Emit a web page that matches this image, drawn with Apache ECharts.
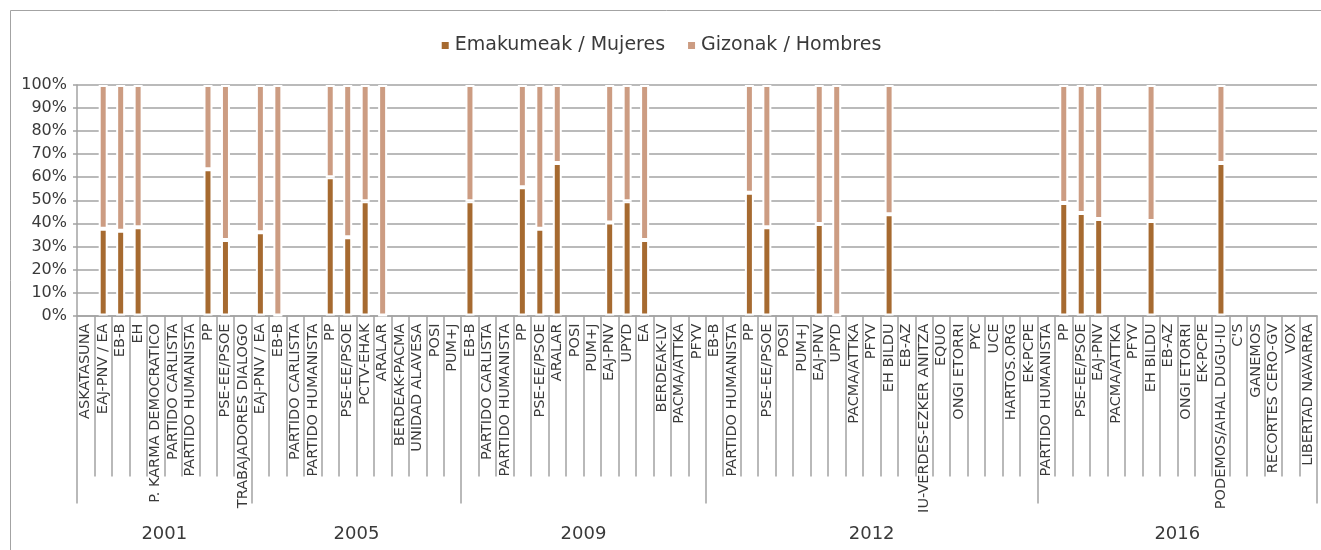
<!DOCTYPE html>
<html>
<head>
<meta charset="utf-8">
<script src="https://cdn.jsdelivr.net/npm/echarts@6/dist/echarts.min.js"></script>
<style>
  html, body { margin: 0; padding: 0; background: #fff; }
  #chart { width: 1321px; height: 550px; }
</style>
</head>
<body>
<div id="chart"></div>
<script>
// Partidos por convocatoria electoral
const parties2001 = ['ASKATASUNA', 'EAJ-PNV / EA', 'EB-B', 'EH', 'P. KARMA DEMOCRATICO', 'PARTIDO CARLISTA',
    'PARTIDO HUMANISTA', 'PP', 'PSE-EE/PSOE', 'TRABAJADORES DIALOGO'];
const parties2005 = ['EAJ-PNV / EA', 'EB-B', 'PARTIDO CARLISTA', 'PARTIDO HUMANISTA', 'PP', 'PSE-EE/PSOE',
    'PCTV-EHAK', 'ARALAR', 'BERDEAK-PACMA', 'UNIDAD ALAVESA', 'POSI', 'PUM+J'];
const parties2009 = ['EB-B', 'PARTIDO CARLISTA', 'PARTIDO HUMANISTA', 'PP', 'PSE-EE/PSOE', 'ARALAR', 'POSI',
    'PUM+J', 'EAJ-PNV', 'UPYD', 'EA', 'BERDEAK-LV', 'PACMA/ATTKA', 'PFYV'];
const parties2012 = ['EB-B', 'PARTIDO HUMANISTA', 'PP', 'PSE-EE/PSOE', 'POSI', 'PUM+J', 'EAJ-PNV', 'UPYD',
    'PACMA/ATTKA', 'PFYV', 'EH BILDU', 'EB-AZ', 'IU-VERDES-EZKER ANITZA', 'EQUO', 'ONGI ETORRI', 'PYC', 'UCE',
    'HARTOS.ORG', 'EK-PCPE'];
const parties2016 = ['PARTIDO HUMANISTA', 'PP', 'PSE-EE/PSOE', 'EAJ-PNV', 'PACMA/ATTKA', 'PFYV', 'EH BILDU',
    'EB-AZ', 'ONGI ETORRI', 'EK-PCPE', 'PODEMOS/AHAL DUGU-IU', "C'S", 'GANEMOS', 'RECORTES CERO-GV', 'VOX',
    'LIBERTAD NAVARRA'];

const years = ['2001', '2005', '2009', '2012', '2016'];

// % mujeres / hombres (null = sin electos)
const mujeres2001 = [null, 37.6, 36.8, 38.3, null, null, null, 63.4, 32.8, null];
const hombres2001 = [null, 62.4, 63.2, 61.7, null, null, null, 36.6, 67.2, null];
const mujeres2005 = [36.1, 0, null, null, 60.0, 34.0, 49.6, 0, null, null, null, null];
const hombres2005 = [63.9, 100, null, null, 40.0, 66.0, 50.4, 100, null, null, null, null];
const mujeres2009 = [49.6, null, null, 55.6, 37.6, 66.2, null, null, 40.3, 49.6, 32.8, null, null, null];
const hombres2009 = [50.4, null, null, 44.4, 62.4, 33.8, null, null, 59.7, 50.4, 67.2, null, null, null];
const mujeres2012 = [null, null, 53.2, 38.3, null, null, 39.7, 0, null, null, 43.9, null, null, null, null, null,
    null, null, null];
const hombres2012 = [null, null, 46.8, 61.7, null, null, 60.3, 100, null, null, 56.1, null, null, null, null, null,
    null, null, null];
const mujeres2016 = [null, 48.8, 44.5, 41.9, null, null, 41.0, null, null, null, 66.2, null, null, null, null, null];
const hombres2016 = [null, 51.2, 55.5, 58.1, null, null, 59.0, null, null, null, 33.8, null, null, null, null, null];

const groups = [parties2001, parties2005, parties2009, parties2012, parties2016];
const categories = [].concat(...groups);
const mujeres = [].concat(mujeres2001, mujeres2005, mujeres2009, mujeres2012, mujeres2016);
const hombres = [].concat(hombres2001, hombres2005, hombres2009, hombres2012, hombres2016);

// límites y centros de cada año en unidades de categoría
const bounds = [0];
groups.forEach(g => bounds.push(bounds[bounds.length - 1] + g.length));
const centers = years.map((y, i) => (bounds[i] + bounds[i + 1]) / 2);
const allBounds = categories.map((c, i) => i).concat([categories.length]);

const FONT = 'DejaVu Sans';
const TXT = '#3a3a3a';
const GRID = '#a3a3a3';

const chart = echarts.init(document.getElementById('chart'));

const barStyle = function (color) {
    return {color: color, borderColor: '#fff', borderWidth: 2};
};

chart.setOption({
    animation: false,
    textStyle: {fontFamily: FONT},
    graphic: [{
        type: 'rect',
        shape: {x: 10.5, y: 10.5, width: 1330, height: 560},
        style: {fill: 'none', stroke: GRID, lineWidth: 1},
        silent: true
    }],
    legend: {
        top: 31,
        left: 'center',
        icon: 'rect',
        itemWidth: 9,
        itemHeight: 9,
        itemGap: 21,
        textStyle: {fontFamily: FONT, fontSize: 19, color: TXT}
    },
    grid: {left: 77, right: 4, top: 85, bottom: 234.5, containLabel: false},
    xAxis: [{
        type: 'category',
        data: categories,
        axisLine: {lineStyle: {color: GRID, width: 1.5}},
        axisTick: {show: false},
        axisLabel: {
            interval: 0, rotate: 90, margin: 8,
            fontFamily: FONT, fontSize: 14.5, color: TXT
        }
    }, {
        // separadores entre partidos
        type: 'value',
        position: 'bottom',
        min: 0,
        max: categories.length,
        axisLine: {show: false},
        splitLine: {show: false},
        axisTick: {show: true, customValues: allBounds, length: 161, lineStyle: {color: GRID, width: 1.5}},
        axisLabel: {show: false}
    }, {
        // años
        type: 'value',
        position: 'bottom',
        min: 0,
        max: categories.length,
        axisLine: {show: false},
        splitLine: {show: false},
        axisTick: {show: true, customValues: bounds, length: 188, lineStyle: {color: GRID, width: 1.5}},
        axisLabel: {
            customValues: centers,
            margin: 210,
            fontFamily: FONT, fontSize: 18, color: TXT,
            formatter: function (v) {
                const i = centers.indexOf(v);
                return i >= 0 ? years[i] : '';
            }
        }
    }],
    yAxis: {
        type: 'value',
        min: 0,
        max: 100,
        interval: 10,
        axisLine: {show: true, lineStyle: {color: GRID, width: 1.5}},
        axisTick: {show: true, length: 4, lineStyle: {color: GRID, width: 1.5}},
        splitLine: {lineStyle: {color: GRID, width: 1.5}},
        axisLabel: {
            margin: 10, fontFamily: FONT, fontSize: 16, color: TXT,
            formatter: '{value}%'
        }
    },
    series: [{
        name: 'Emakumeak / Mujeres',
        type: 'bar',
        stack: 'total',
        barWidth: 9,
        itemStyle: barStyle('#a66a30'),
        data: mujeres
    }, {
        name: 'Gizonak / Hombres',
        type: 'bar',
        stack: 'total',
        barWidth: 9,
        itemStyle: barStyle('#cc9c82'),
        data: hombres
    }]
});
</script>
</body>
</html>
